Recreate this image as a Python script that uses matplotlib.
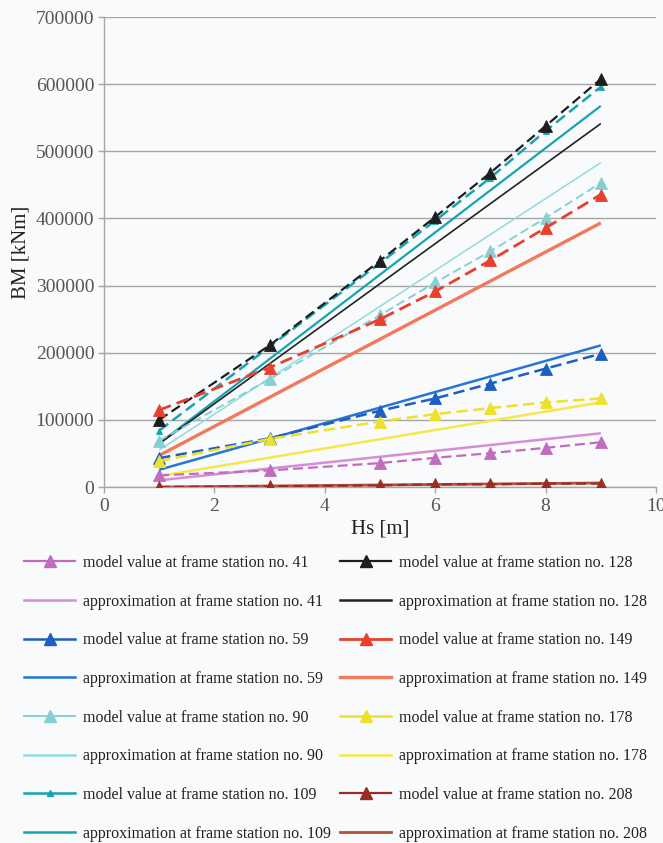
import matplotlib
matplotlib.use("Agg")
import matplotlib.pyplot as plt
from matplotlib.lines import Line2D

plt.rcParams["font.family"] = ["Liberation Serif", "DejaVu Serif"]

# Significant wave height [m] at which the model was evaluated
hs = [1, 3, 5, 6, 7, 8, 9]
# End points of the fitted approximation lines
hs_fit = [1, 9]

# Bending moment [kNm] from the model, per frame station
model_41 = [17300, 24700, 35600, 43500, 50400, 58300, 66700]
model_59 = [43000, 72500, 113600, 131900, 154000, 176300, 198500]
model_90 = [69000, 160500, 256000, 304600, 351000, 400700, 453000]
model_109 = [84000, 209000, 333500, 396800, 460500, 530300, 596000]
model_128 = [100000, 211000, 337000, 402200, 468000, 537700, 607500]
model_149 = [114600, 177800, 249800, 291200, 337500, 385800, 435600]
model_178 = [38500, 71600, 97500, 108600, 117500, 126000, 131900]
model_208 = [0, 1000, 2500, 4000, 4000, 5000, 5000]

# Approximation values [kNm] at hs_fit
fit_41 = [10000, 80000]
fit_59 = [25700, 210900]
fit_90 = [55000, 483000]
fit_109 = [65000, 567600]
fit_128 = [64400, 541200]
fit_149 = [47000, 393300]
fit_178 = [16300, 126000]
fit_208 = [0, 6000]

stations = [41, 59, 90, 109, 128, 149, 178, 208]
model_values = [model_41, model_59, model_90, model_109,
                model_128, model_149, model_178, model_208]
fit_values = [fit_41, fit_59, fit_90, fit_109,
              fit_128, fit_149, fit_178, fit_208]

y_ticks = [0, 100000, 200000, 300000, 400000, 500000, 600000, 700000]
y_tick_labels = ["0", "100000", "200000", "300000", "400000",
                 "500000", "600000", "700000"]
x_ticks = [0, 2, 4, 6, 8, 10]
x_tick_labels = ["0", "2", "4", "6", "8", "10"]

# (marker/dash colour, fit colour, fit width, dash width, marker size)
styles = {
    41: ("#c06cbf", "#d58ed6", 1.8, 1.6, 8.0),
    59: ("#1c5fc0", "#2676d3", 1.8, 1.8, 8.0),
    90: ("#86d0d4", "#8fdbe0", 1.1, 1.4, 8.0),
    109: ("#17a4b1", "#17a4b1", 1.6, 1.8, 5.0),
    128: ("#1e1e1e", "#222222", 1.2, 1.6, 8.0),
    149: ("#e8402c", "#f27a5c", 2.4, 2.0, 8.0),
    178: ("#ede12c", "#f4e74c", 1.8, 1.8, 8.0),
    208: ("#9a2e22", "#b2503c", 2.0, 1.6, 8.0),
}

bg = "#f9fafc"
fig = plt.figure(figsize=(6.63, 8.43), dpi=100, facecolor=bg)
ax = fig.add_axes([104 / 663, 1 - 487 / 843, (656 - 104) / 663, (487 - 17) / 843])
ax.set_facecolor(bg)

handles = []
labels = []
for st, mv, fv in zip(stations, model_values, fit_values):
    mc, fc, flw, mlw, ms = styles[st]
    ax.plot(hs_fit, fv, color=fc, lw=flw, solid_capstyle="butt", zorder=2)
    ax.plot(hs, mv, color=mc, lw=mlw, dashes=(4.5, 2.2), marker="^",
            markersize=ms, markeredgewidth=0.6, markeredgecolor=mc, zorder=3)
    handles.append(Line2D([], [], color=mc, lw=mlw, marker="^", markersize=ms,
                          markeredgecolor=mc))
    labels.append("model value at frame station no. %d" % st)
    handles.append(Line2D([], [], color=fc, lw=max(flw, 1.8)))
    labels.append("approximation at frame station no. %d" % st)

ax.set_xlim(0, 10)
ax.set_ylim(0, 700000)
ax.set_xticks(x_ticks)
ax.set_xticklabels(x_tick_labels)
ax.set_yticks(y_ticks)
ax.set_yticklabels(y_tick_labels)
ax.grid(axis="y", color="#a6a6a6", lw=1.0)
ax.set_axisbelow(True)
for side in ("top", "right"):
    ax.spines[side].set_visible(False)
for side in ("left", "bottom"):
    ax.spines[side].set_color("#a6a6a6")
    ax.spines[side].set_linewidth(1.0)
ax.tick_params(axis="both", colors="#a6a6a6", labelcolor="#555555",
               labelsize=14, length=4, width=1.0, direction="out")
ax.tick_params(axis="x", pad=4)
ax.tick_params(axis="y", pad=3)
ax.set_xlabel("Hs [m]", fontsize=15, color="#222222", labelpad=3)
ax.set_ylabel("BM [kNm]", fontsize=15, color="#222222", labelpad=4)

legend_kw = dict(loc="upper left", frameon=False, fontsize=11.5,
                 handlelength=3.2, handletextpad=0.5, labelspacing=1.42,
                 borderpad=0, borderaxespad=0, numpoints=1,
                 labelcolor="#222222")
fig.legend(handles[:8], labels[:8], bbox_to_anchor=(24 / 663, 1 - 555 / 843),
           **legend_kw)
fig.legend(handles[8:], labels[8:], bbox_to_anchor=(340 / 663, 1 - 555 / 843),
           **legend_kw)

fig.savefig("out.png", dpi=100, facecolor=bg)
